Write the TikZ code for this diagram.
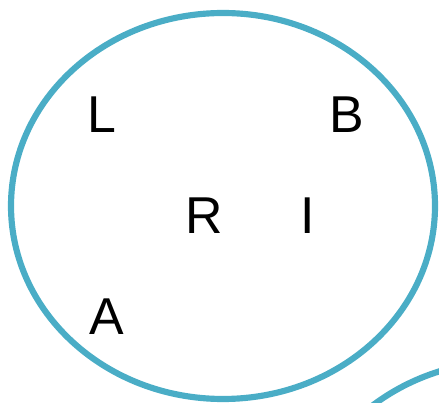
\documentclass[tikz,border=0pt]{standalone}
\usepackage{fontspec}
\setmainfont{Liberation Sans}
\usetikzlibrary{positioning}
\definecolor{ringblue}{HTML}{4AADC6}
\tikzset{
  ring/.style={draw=ringblue,line width=3.5pt},
  lbl/.style={inner sep=0pt,font=\fontsize{29.5}{35}\selectfont,text=black}
}
\begin{document}
\begin{tikzpicture}
  \useasboundingbox (0,0) rectangle (8.78,8.06);
  \draw[ring] (4.46,3.94) ellipse [x radius=4.24cm,y radius=3.86cm];
  \draw[ring] (10.16,-3.02) ellipse [x radius=4.24cm,y radius=3.86cm];

  \node[lbl] (l) at (2.04,5.76) {L};
  \node[lbl] (b) at (6.94,5.76) {B};
  \node[lbl] (r) at (4.08,3.74) {R};
  \node[lbl] (i) at (6.16,3.74) {I};
  \node[lbl] (a) at (2.14,1.72) {A};
\end{tikzpicture}
\end{document}
